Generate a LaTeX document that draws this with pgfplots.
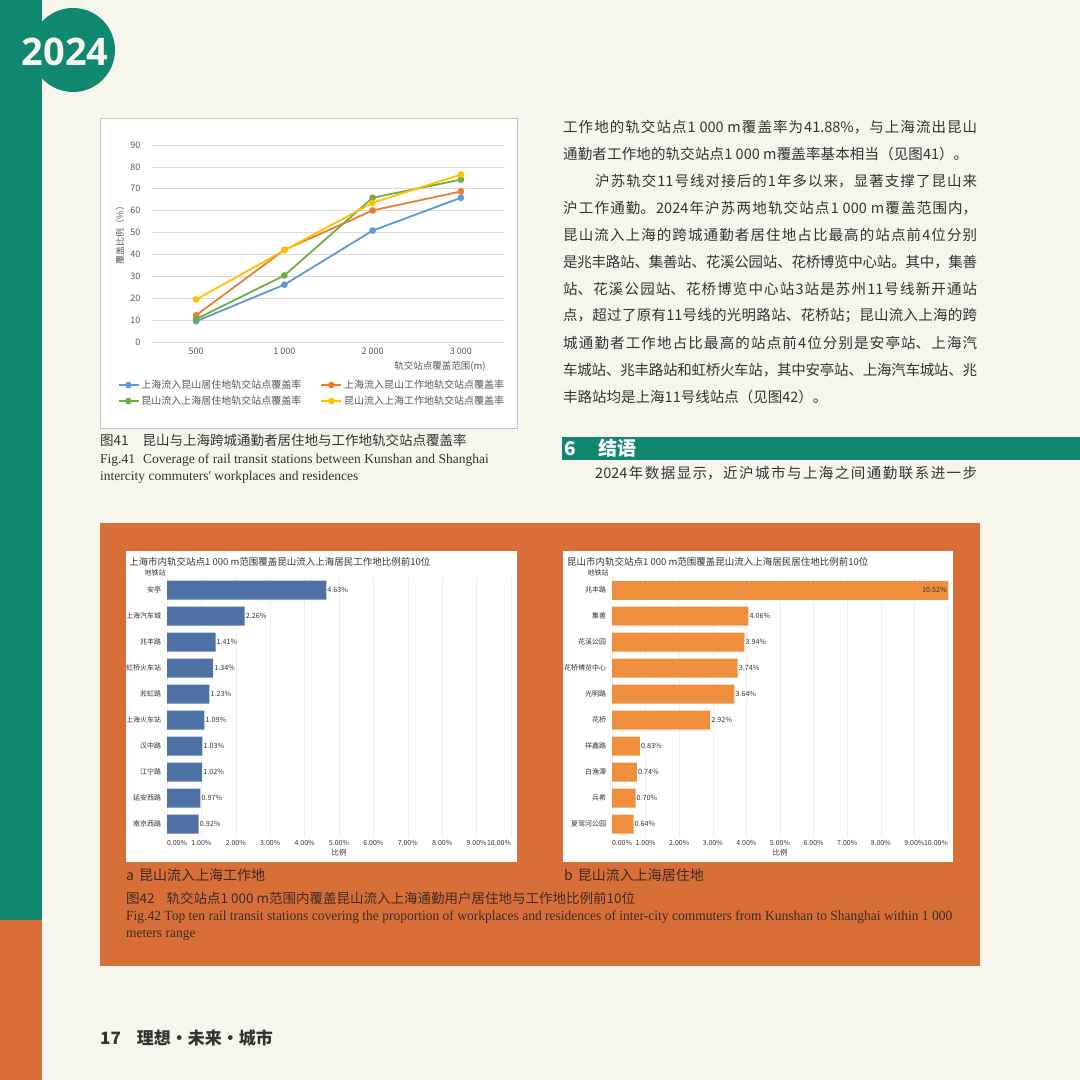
\documentclass[border=0pt]{standalone}
\usepackage{pgfplots}
\pgfplotsset{compat=1.18}
\usepackage{fontspec}
\setmainfont{Noto Sans CJK SC}
\newfontfamily\timesf{Liberation Serif}
\newfontfamily\yearf{Open Sans}

\definecolor{pagebg}{HTML}{F7F6EC}
\definecolor{teal}{HTML}{10876F}
\definecolor{boxorange}{HTML}{D86F38}
\definecolor{barblue}{HTML}{4E72A6}
\definecolor{barorange}{HTML}{EF8F3E}
\definecolor{lblue}{HTML}{5B9BD5}
\definecolor{lorange}{HTML}{ED7D31}
\definecolor{lgreen}{HTML}{70AD47}
\definecolor{lyellow}{HTML}{FFC000}
\definecolor{ink}{HTML}{333333}
\definecolor{tickgray}{HTML}{595959}
\definecolor{capink}{HTML}{3A2A22}

\newcommand\fs[1]{\fontsize{#1}{#1}\selectfont}
% glue between CJK chars so single lines can be stretched to the column width
\XeTeXlinebreaklocale "zh"
\XeTeXlinebreakskip=0pt plus 3pt minus 0.3pt
\newcommand\jl[2]{\parbox{#1}{\fs{14.5}\parfillskip=0pt\relax\noindent#2}}

\pgfplotsset{
  hbar/.style={
    scale only axis, anchor=north west, xbar, bar shift=0pt, bar width=19pt,
    xmin=0, xmax=10, ymin=-0.5, ymax=9.5, y dir=reverse, height=260pt,
    axis line style={draw=none}, tick style={draw=none},
    xmajorgrids, major grid style={gray!12},
    xtick={0,...,10},
    xticklabels={\makebox[0pt][l]{0.00\%},1.00\%,2.00\%,3.00\%,4.00\%,5.00\%,6.00\%,7.00\%,8.00\%,9.00\%,\makebox[0pt][r]{10.00\%}},
    ytick={0,...,9},
    xticklabel style={font=\fs{7}, text=ink},
    yticklabel style={font=\fs{7}, text=ink, inner sep=1.5pt},
    /pgf/number format/assume math mode=true,
    point meta=x,
    nodes near coords={\pgfmathprintnumber[fixed,fixed zerofill,precision=2]{\pgfplotspointmeta}\%},
    nodes near coords style={font=\fs{7.2}, anchor=west, inner sep=1pt, text=ink},
  }
}

\begin{document}
\begin{tikzpicture}
\fill[pagebg] (0pt,0pt) rectangle (1080pt,-1080pt);
\fill[teal] (0pt,0pt) rectangle (42pt,-920pt);
\fill[boxorange] (0pt,-920pt) rectangle (42pt,-1080pt);
\fill[teal] (73pt,-50pt) circle (42pt);
\node[text=pagebg, font=\yearf\bfseries\fs{38}] at (65pt,-52pt) {2024};

% ---- Fig.41 line chart
\draw[gray!45, fill=white] (100pt,-118pt) rectangle (517pt,-428pt);
\begin{axis}[
  at={(152pt,-342pt)}, anchor=south west, scale only axis,
  width=353pt, height=197pt,
  xmin=-0.5, xmax=3.5, ymin=0, ymax=90,
  xtick={0,1,2,3}, xticklabels={500,1 000,2 000,3 000},
  ytick={0,10,...,90},
  axis line style={draw=none}, tick style={draw=none},
  ymajorgrids, major grid style={gray!28, line width=0.6pt},
  tick label style={font=\fs{9}, text=tickgray},
  yticklabel style={xshift=-8pt},
  xticklabel style={yshift=-2pt},
  /pgf/number format/assume math mode=true,
  every axis plot/.append style={line width=1.8pt, mark=*, mark size=2.4pt},
  legend columns=2,
  legend cell align=left,
  legend style={at={(0.453,-0.259)}, anchor=center, draw=none, fill=none,
    font=\fs{10}, text=tickgray, row sep=2pt,
    /tikz/every even column/.append style={column sep=17pt}},
  legend image code/.code={\draw[mark repeat=2,mark phase=2,#1] plot coordinates {(0pt,0pt) (10pt,0pt) (20pt,0pt)};},
]
\addplot[color=lblue] coordinates {(0,9.5) (1,26.2) (2,50.9) (3,65.9)};
\addlegendentry{上海流入昆山居住地轨交站点覆盖率}
\addplot[color=lorange] coordinates {(0,12.2) (1,42.1) (2,60.1) (3,68.8)};
\addlegendentry{上海流入昆山工作地轨交站点覆盖率}
\addplot[color=lgreen] coordinates {(0,10.5) (1,30.4) (2,65.9) (3,74.2)};
\addlegendentry{昆山流入上海居住地轨交站点覆盖率}
\addplot[color=lyellow] coordinates {(0,19.4) (1,41.9) (2,63.6) (3,76.5)};
\addlegendentry{昆山流入上海工作地轨交站点覆盖率}
\end{axis}
\node[rotate=90, font=\fs{9}, text=tickgray] at (120pt,-233pt) {覆盖比例（\%）};
\node[font=\fs{9.5}, text=tickgray] at (440pt,-366pt) {轨交站点覆盖范围(m)};

\node[anchor=west, inner sep=0, text=ink, font=\fs{13.5}] at (100pt,-440pt) {图41\hspace{14pt}昆山与上海跨城通勤者居住地与工作地轨交站点覆盖率};
\node[anchor=west, inner sep=0, text=ink, font=\timesf\fs{13.5}] at (100pt,-460pt) {Fig.41\hspace{8pt}Coverage of rail transit stations between Kunshan and Shanghai};
\node[anchor=west, inner sep=0, text=ink, font=\timesf\fs{13.5}] at (100pt,-477pt) {intercity commuters' workplaces and residences};

% ---- right column text
\begin{scope}[every node/.style={anchor=west, inner sep=0, text=ink}]
\node at (563pt,-127pt) {\jl{414pt}{工作地的轨交站点1 000 m覆盖率为41.88\%，与上海流出昆山}};
\node at (563pt,-154pt) {\jl{405pt}{通勤者工作地的轨交站点1 000 m覆盖率基本相当（见图41）。}};
\node at (595pt,-181pt) {\jl{382pt}{沪苏轨交11号线对接后的1年多以来，显著支撑了昆山来}};
\node at (563pt,-208pt) {\jl{414pt}{沪工作通勤。2024年沪苏两地轨交站点1 000 m覆盖范围内，}};
\node at (563pt,-235pt) {\jl{414pt}{昆山流入上海的跨城通勤者居住地占比最高的站点前4位分别}};
\node at (563pt,-262pt) {\jl{414pt}{是兆丰路站、集善站、花溪公园站、花桥博览中心站。其中，集善}};
\node at (563pt,-289pt) {\jl{414pt}{站、花溪公园站、花桥博览中心站3站是苏州11号线新开通站}};
\node at (563pt,-316pt) {\jl{414pt}{点，超过了原有11号线的光明路站、花桥站；昆山流入上海的跨}};
\node at (563pt,-343pt) {\jl{414pt}{城通勤者工作地占比最高的站点前4位分别是安亭站、上海汽}};
\node at (563pt,-370pt) {\jl{414pt}{车城站、兆丰路站和虹桥火车站，其中安亭站、上海汽车城站、兆}};
\node at (563pt,-397pt) {\fs{14.5}丰路站均是上海11号线站点（见图42）。};
\end{scope}
\fill[teal] (562pt,-437pt) rectangle (1080pt,-460pt);
\node[anchor=west, inner sep=0, text=white, font=\bfseries\fs{19}] at (564pt,-448.5pt) {6};
\node[anchor=west, inner sep=0, text=white, font=\bfseries\fs{19}] at (598pt,-448.5pt) {结语};
\node[anchor=west, inner sep=0, text=ink] at (595pt,-473pt) {\jl{382pt}{2024年数据显示，近沪城市与上海之间通勤联系进一步}};

% ---- Fig.42 box
\fill[boxorange] (100pt,-523pt) rectangle (980pt,-966pt);
\fill[white] (126pt,-551pt) rectangle (517pt,-862pt);
\fill[white] (563pt,-551pt) rectangle (953pt,-862pt);

\begin{axis}[hbar, at={(167pt,-577pt)}, width=344pt,
  yticklabels={安亭,上海汽车城,兆丰路,虹桥火车站,淞虹路,上海火车站,汉中路,江宁路,延安西路,南京西路}]
\addplot[fill=barblue, draw=none] coordinates {
  (4.63,0) (2.26,1) (1.41,2) (1.34,3) (1.23,4)
  (1.09,5) (1.03,6) (1.02,7) (0.97,8) (0.92,9)};
\end{axis}
\node[anchor=west, inner sep=0, text=ink, font=\fs{9.5}] at (129pt,-562pt) {上海市内轨交站点1 000 m范围覆盖昆山流入上海居民工作地比例前10位};
\node[font=\fs{7}, text=ink] at (155pt,-573pt) {地铁站};
\node[font=\fs{7.5}, text=ink] at (339pt,-853pt) {比例};

\begin{axis}[hbar, at={(612pt,-577pt)}, width=336pt,
  yticklabels={兆丰路,集善,花溪公园,花桥博览中心,光明路,花桥,祥鑫路,白渔潭,兵希,夏驾河公园}]
\addplot[fill=barorange, draw=none, nodes near coords=] coordinates {(10.52,0)};
\addplot[fill=barorange, draw=none] coordinates {
  (4.06,1) (3.94,2) (3.74,3) (3.64,4) (2.92,5)
  (0.83,6) (0.74,7) (0.70,8) (0.64,9)};
\node[anchor=east, font=\fs{7.2}, text=ink, inner sep=1pt] at (axis cs:10,0) {10.52\%};
\end{axis}
\node[anchor=west, inner sep=0, text=ink, font=\fs{9.5}] at (567pt,-562pt) {昆山市内轨交站点1 000 m范围覆盖昆山流入上海居民居住地比例前10位};
\node[font=\fs{7}, text=ink] at (598pt,-573pt) {地铁站};
\node[font=\fs{7.5}, text=ink] at (780pt,-853pt) {比例};

\node[anchor=west, inner sep=0, text=capink, font=\fs{14}] at (126pt,-875pt) {a\hspace{5pt}昆山流入上海工作地};
\node[anchor=west, inner sep=0, text=capink, font=\fs{14}] at (564pt,-875pt) {b\hspace{5pt}昆山流入上海居住地};
\node[anchor=west, inner sep=0, text=capink, font=\fs{13.5}] at (126pt,-898pt) {图42\hspace{12pt}轨交站点1 000 m范围内覆盖昆山流入上海通勤用户居住地与工作地比例前10位};
\node[anchor=west, inner sep=0, text=capink, font=\timesf\fs{14}] at (126pt,-917pt) {\scalebox{0.965}[1]{Fig.42 Top ten rail transit stations covering the proportion of workplaces and residences of inter-city commuters from Kunshan to Shanghai within 1 000}};
\node[anchor=west, inner sep=0, text=capink, font=\timesf\fs{14}] at (126pt,-935pt) {\scalebox{0.965}[1]{meters range}};

% ---- footer
\node[anchor=west, inner sep=0, text=ink, font=\bfseries\fs{17}] at (100pt,-1038pt) {17\hspace{16pt}理想·未来·城市};

\pgfresetboundingbox
\path[use as bounding box] (0pt,0pt) rectangle (1080pt,-1080pt);
\end{tikzpicture}
\end{document}
